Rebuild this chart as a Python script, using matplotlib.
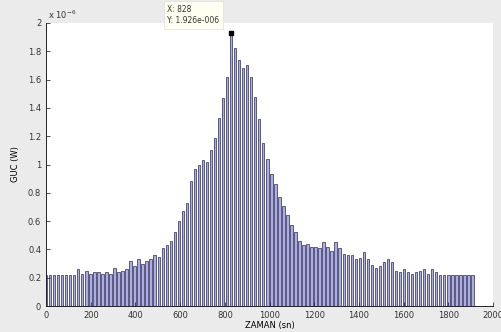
import numpy as np
import matplotlib
matplotlib.use("Agg")
import matplotlib.pyplot as plt
from matplotlib.ticker import FuncFormatter

# power readings, in units of 1e-6 W, one every 18 s
step = 18
guc = [0.22, 0.22, 0.22, 0.22, 0.22, 0.22, 0.22, 0.22, 0.26, 0.23,
       0.25, 0.23, 0.24, 0.24, 0.23, 0.24, 0.23, 0.27, 0.24, 0.25,
       0.26, 0.32, 0.28, 0.33, 0.30, 0.32, 0.33, 0.36, 0.35, 0.41,
       0.43, 0.46, 0.52, 0.60, 0.67, 0.73, 0.88, 0.97, 1.00, 1.03,
       1.02, 1.10, 1.19, 1.33, 1.47, 1.62, 1.926, 1.82, 1.74, 1.68,
       1.70, 1.62, 1.48, 1.32, 1.15, 1.04, 0.93, 0.86, 0.77, 0.71,
       0.64, 0.57, 0.52, 0.46, 0.43, 0.44, 0.42, 0.42, 0.41, 0.45,
       0.42, 0.39, 0.45, 0.41, 0.37, 0.36, 0.36, 0.33, 0.34, 0.38,
       0.33, 0.29, 0.27, 0.28, 0.31, 0.33, 0.31, 0.25, 0.24, 0.26,
       0.24, 0.23, 0.24, 0.25, 0.26, 0.23, 0.26, 0.24, 0.22, 0.22,
       0.22, 0.22, 0.22, 0.22, 0.22, 0.22, 0.22]
zaman = np.arange(len(guc)) * step
power = np.array(guc) * 1e-6

tip_x = 828
tip_y = 1.926e-6

plt.rcParams['font.family'] = 'DejaVu Sans'
plt.rcParams['font.size'] = 6

fig = plt.figure(figsize=(5.01, 3.32), dpi=100, facecolor='#ebebeb')
ax = fig.add_axes([0.092, 0.078, 0.892, 0.853])

ax.bar(zaman, power, width=step * 0.6, color='#adade2', edgecolor='#2a2a55',
       linewidth=0.5, align='center')

ax.set_xlim(0, 2000)
ax.set_ylim(0, 2e-6)
ax.set_xticks(np.arange(0, 2001, 200))
ax.set_yticks(np.arange(0, 2.01e-6, 0.2e-6))
ax.yaxis.set_major_formatter(FuncFormatter(lambda v, p: '%g' % round(v * 1e6, 1)))
ax.text(0.005, 1.005, r'x 10$^{-6}$', transform=ax.transAxes, fontsize=6,
        ha='left', va='bottom', color='#333333')

ax.tick_params(direction='in', length=3, width=0.6, colors='#333333', labelsize=6)
for s in ('top', 'right'):
    ax.spines[s].set_visible(False)
for s in ('left', 'bottom'):
    ax.spines[s].set_linewidth(0.7)
    ax.spines[s].set_color('#222222')

ax.set_xlabel('ZAMAN (sn)', fontsize=6, labelpad=1)
ax.set_ylabel('GUC (W)', fontsize=6, labelpad=6)

# data cursor at the peak, exponent written the Windows-MATLAB way
mant, expo = ('%.3e' % tip_y).split('e')
tip_label = 'X: %d\nY: %se%s%03d' % (tip_x, mant, expo[0], abs(int(expo)))
ax.plot([tip_x], [tip_y], marker='s', color='black', markersize=3.5,
        linestyle='none', clip_on=False, zorder=5)
ax.annotate(tip_label, xy=(tip_x, tip_y),
            xytext=(-64, 8), textcoords='offset pixels', fontsize=5.5,
            ha='left', va='bottom', color='#333333', annotation_clip=False,
            linespacing=1.4,
            bbox=dict(boxstyle='square,pad=0.45', fc='#fffff2', ec='#dddddd', lw=0.5))

fig.savefig('out.png', dpi=100, facecolor=fig.get_facecolor())
